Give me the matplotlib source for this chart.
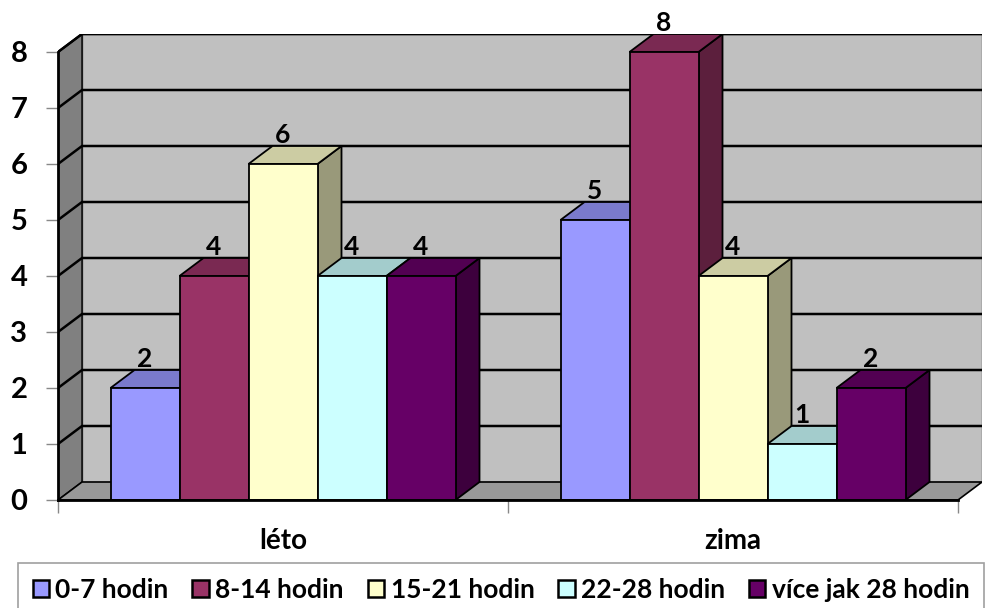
import matplotlib.pyplot as plt
import numpy as np
from matplotlib.patches import Polygon, Patch
from matplotlib.colors import to_rgb

plt.rcParams['font.family'] = ['Lato', 'DejaVu Sans']
plt.rcParams['font.weight'] = 'bold'

categories = ["léto", "zima"]
series = ["0-7 hodin", "8-14 hodin", "15-21 hodin", "22-28 hodin", "více jak 28 hodin"]
values = [
    [2, 5],
    [4, 8],
    [6, 4],
    [4, 1],
    [4, 2],
]
colors = ["#9999FF", "#993366", "#FFFFCC", "#CCFFFF", "#660066"]
yticks = list(range(0, 9))

# depth of the 3d effect in data units (x: 450 px per category, y: 56 px per unit)
DX = 24 / 450
DY = 18 / 56
GAP = 52.5 / 450
BW = 69 / 450
YMAX = 8


def shade(c, f):
    r, g, b = to_rgb(c)
    return (r * f, g * f, b * f)


fig = plt.figure(figsize=(9.96, 6.08), dpi=100)
ax = fig.add_axes([58 / 996, 108 / 608, 924 / 996, 466 / 608])
ax.set_xlim(0, len(categories) + DX)
ax.set_ylim(0, YMAX + DY)
ncat = len(categories)

# walls and floor
ax.add_patch(Polygon([(DX, DY), (ncat + DX, DY), (ncat + DX, YMAX + DY), (DX, YMAX + DY)],
                     facecolor="#C0C0C0", edgecolor="#555555", lw=1, zorder=0))
ax.add_patch(Polygon([(0, 0), (DX, DY), (DX, YMAX + DY), (0, YMAX)],
                     facecolor="#808080", edgecolor="black", lw=1, zorder=0))
ax.add_patch(Polygon([(0, 0), (ncat, 0), (ncat + DX, DY), (DX, DY)],
                     facecolor="#999999", edgecolor="black", lw=1.2, zorder=0))
for y in yticks[1:]:
    ax.plot([0, DX, ncat + DX], [y, y + DY, y + DY], color="black", lw=1.8, zorder=1)
ax.plot([0, DX, ncat + DX], [YMAX, YMAX + DY, YMAX + DY], color="black", lw=1.5, zorder=1)

# bars: side, top, front for each bar from left to right
for i in range(ncat):
    for j, (name, vals, col) in enumerate(zip(series, values, colors)):
        v = vals[i]
        x0 = i + GAP + j * BW
        x1 = x0 + BW
        ax.add_patch(Polygon([(x1, 0), (x1 + DX, DY), (x1 + DX, v + DY), (x1, v)],
                             facecolor=shade(col, 0.6), edgecolor="black", lw=1.3, zorder=2))
        ax.add_patch(Polygon([(x0, v), (x1, v), (x1 + DX, v + DY), (x0 + DX, v + DY)],
                             facecolor=shade(col, 0.8), edgecolor="black", lw=1.3, zorder=2))
        ax.bar(x0, v, width=BW, align="edge", color=col, edgecolor="black", lw=1.3, zorder=2)
        ax.text(x0 + BW / 2, v + DY - 0.02, str(v), ha="center", va="bottom",
                fontsize=19, fontweight="bold", zorder=3)

for s in ["top", "right"]:
    ax.spines[s].set_visible(False)
ax.spines["left"].set_bounds(0, YMAX)
ax.spines["bottom"].set_bounds(0, ncat)
ax.spines["left"].set_linewidth(2)
ax.spines["bottom"].set_linewidth(2)
ax.spines["left"].set_zorder(4)
ax.spines["bottom"].set_zorder(4)

ax.set_yticks(yticks)
ax.set_yticklabels([str(t) for t in yticks], fontsize=21, fontweight="bold")
ax.tick_params(axis="y", length=9, width=1, color="#888888", pad=13)

ax.set_xticks(range(ncat + 1))
ax.set_xticklabels([])
ax.set_xticks([i + 0.5 for i in range(ncat)], minor=True)
ax.set_xticklabels(categories, minor=True, fontsize=20, fontweight="bold")
ax.tick_params(axis="x", which="major", length=9, width=1, color="#888888")
ax.tick_params(axis="x", which="minor", length=0, pad=20)

handles = [Patch(facecolor=c, edgecolor="black", lw=1.8) for c in colors]
leg = fig.legend(handles, series, loc="upper left", bbox_to_anchor=(18 / 996, 1 - 563 / 608),
                 ncol=5, prop={"weight": "bold", "size": 19},
                 handlelength=0.62, handleheight=0.62, handletextpad=0.25,
                 columnspacing=0.9, fancybox=False, edgecolor="#888888",
                 borderpad=0.55, borderaxespad=0)
leg.get_frame().set_linewidth(1.2)

fig.savefig("out.png", dpi=100)
